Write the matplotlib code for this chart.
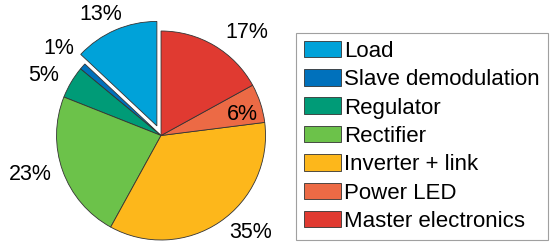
import matplotlib
matplotlib.use('Agg')
import matplotlib.pyplot as plt
import numpy as np

plt.rcParams['font.family'] = ['Liberation Sans', 'DejaVu Sans']

# power breakdown
labels = ['Load', 'Slave demodulation', 'Regulator', 'Rectifier',
          'Inverter + link', 'Power LED', 'Master electronics']
shares = [13, 1, 5, 23, 35, 6, 17]
pct_labels = ['13%', '1%', '5%', '23%', '35%', '6%', '17%']
explode = [0.1, 0, 0, 0, 0, 0, 0]
colors = ['#00A2D9', '#0071BC', '#009B77', '#6CC24A',
          '#FDB71B', '#EC6A45', '#E03A31']

# label placement (distance along bisector, alignment)
label_dist = [1.05, 1.11, 1.13, 1.11, 1.12, 0.97, 1.15]
label_ha = ['right', 'right', 'right', 'right', 'left', 'right', 'left']
label_va = ['bottom', 'bottom', 'center', 'center', 'center', 'top', 'center']
label_dx = [0.08, 0, 0, 0, 0.02, 0, 0.03]

fig = plt.figure(figsize=(5.5, 2.5), dpi=100)
ax = fig.add_axes([0.0553, -0.0645, 0.475, 1.045])

wedges, texts = ax.pie(shares, labels=pct_labels, colors=colors,
                       explode=explode, startangle=90, counterclock=True,
                       labeldistance=1.1,
                       wedgeprops=dict(edgecolor='#333333', linewidth=0.6),
                       textprops=dict(fontsize=15.5))

for w, t, d, ha, va, dx, ex in zip(wedges, texts, label_dist, label_ha,
                                   label_va, label_dx, explode):
    ang = np.deg2rad((w.theta1 + w.theta2) / 2)
    cx = ex * np.cos(ang)
    cy = ex * np.sin(ang)
    t.set_position((cx + d * np.cos(ang) + dx, cy + d * np.sin(ang)))
    t.set_ha(ha)
    t.set_va(va)

ax.set_xlim(-1.25, 1.25)
ax.set_ylim(-1.25, 1.25)

leg = fig.legend(wedges, labels, loc='upper left',
                 bbox_to_anchor=(296 / 550, 1 - 33 / 250),
                 fontsize=16, handlelength=1.67, handleheight=0.77,
                 handletextpad=0.15, labelspacing=0.33, borderpad=0.35,
                 borderaxespad=0, fancybox=False, frameon=True)
leg.get_frame().set_edgecolor('#888888')
leg.get_frame().set_linewidth(0.8)

fig.savefig('out.png', dpi=100)
